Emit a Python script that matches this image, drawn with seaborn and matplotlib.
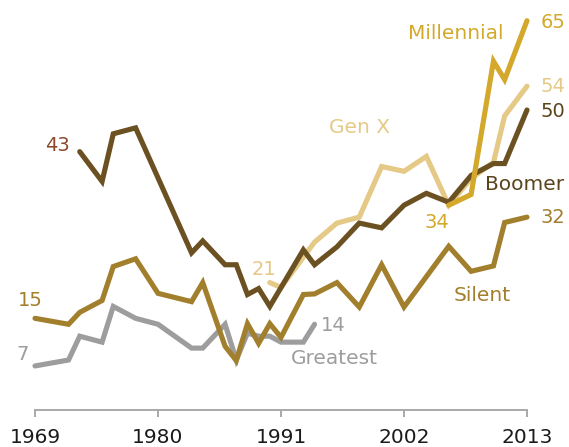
import matplotlib
matplotlib.use("Agg")
import matplotlib.pyplot as plt
import seaborn as sns
import pandas as pd

# ---- data ----
greatest_years = [1969, 1972, 1973, 1975, 1976, 1978, 1980, 1983, 1984, 1986, 1987, 1988, 1989, 1990, 1991, 1993, 1994]
greatest_vals  = [7, 8, 12, 11, 17, 15, 14, 10, 10, 14, 8, 12.5, 12, 12, 11, 11, 14]

silent_years = [1969, 1972, 1973, 1975, 1976, 1978, 1980, 1983, 1984, 1986, 1987, 1988, 1989, 1990, 1991, 1993, 1994, 1996, 1998, 2000, 2002, 2006, 2008, 2010, 2011, 2013]
silent_vals  = [15, 14, 16, 18, 23.7, 25, 19.2, 17.8, 21, 10.3, 7.9, 14.1, 10.8, 14.1, 11.8, 19, 19.1, 21, 16.9, 24, 16.9, 27.1, 22.9, 23.8, 31.1, 32]

boomer_years = [1973, 1975, 1976, 1978, 1983, 1984, 1986, 1987, 1988, 1989, 1990, 1993, 1994, 1996, 1998, 2000, 2002, 2004, 2006, 2008, 2010, 2011, 2013]
boomer_vals  = [43, 38, 46, 47, 26, 28, 24, 24, 19, 20, 17, 26.5, 24, 27, 31, 30.2, 34, 36, 34.5, 39, 41, 41, 50]

genx_years = [1990, 1991, 1994, 1996, 1998, 2000, 2002, 2004, 2006, 2008, 2010, 2011, 2013]
genx_vals  = [21, 20.2, 27.8, 31, 32, 40.5, 39.7, 42.2, 34, 38.5, 41.2, 49, 54]

millennial_years = [2006, 2008, 2010, 2011, 2013]
millennial_vals  = [34, 35.8, 58.2, 55.1, 65]

generations = ["Greatest", "Silent", "Gen X", "Boomer", "Millennial"]
x_ticks = [1969, 1980, 1991, 2002, 2013]

colors = {
    "Greatest": "#9d9d9d",
    "Silent": "#a17f2d",
    "Gen X": "#e5c986",
    "Boomer": "#6b5021",
    "Millennial": "#d4a82b",
}

series = {
    "Greatest": (greatest_years, greatest_vals),
    "Silent": (silent_years, silent_vals),
    "Gen X": (genx_years, genx_vals),
    "Boomer": (boomer_years, boomer_vals),
    "Millennial": (millennial_years, millennial_vals),
}

rows = []
for g in generations:
    ys, vs = series[g]
    for y, v in zip(ys, vs):
        rows.append({"year": y, "pct": v, "gen": g})
df = pd.DataFrame(rows)

sns.set_theme(style="white")
plt.rcParams["font.family"] = ["DejaVu Sans"]

fig = plt.figure(figsize=(5.69, 4.47), dpi=100)
ax = fig.add_axes([35 / 569, 37 / 447, 492 / 569, 389.3 / 447])

sns.lineplot(data=df, x="year", y="pct", hue="gen", hue_order=generations,
             palette=colors, linewidth=3.7, sort=False, estimator=None,
             legend=False, ax=ax)
for ln in ax.lines:
    ln.set_clip_on(False)
    ln.set_solid_capstyle("round")
    ln.set_solid_joinstyle("miter")

ax.set_xlim(1969, 2013)
ax.set_ylim(-0.4, 65)
ax.set_xticks(x_ticks)
ax.set_xticklabels([str(t) for t in x_ticks])
ax.set_yticks([])
ax.set_xlabel("")
ax.set_ylabel("")
for s in ["top", "right", "left"]:
    ax.spines[s].set_visible(False)
ax.spines["bottom"].set_color("#a9a9a9")
ax.spines["bottom"].set_linewidth(1.4)
ax.tick_params(axis="x", direction="out", length=5, width=1.4, color="#a9a9a9",
               labelsize=14.5, labelcolor="#1a1a1a", pad=8, bottom=True)

fs = 14

def lab(text, gen, idx, dx, dy, color, ha="center"):
    ys, vs = series[gen]
    ax.annotate(text, xy=(ys[idx], vs[idx]), xytext=(dx, dy), textcoords="offset pixels",
                ha=ha, va="center", fontsize=fs, color=color, annotation_clip=False)

lab("43", "Boomer", 0, -22, 6, "#8c4a2c")
lab("15", "Silent", 0, -5, 18, colors["Silent"])
lab("7", "Greatest", 0, -12, 11, colors["Greatest"])
lab("21", "Gen X", 0, -6, 13, colors["Gen X"])
lab("14", "Greatest", -1, 6, -1, colors["Greatest"], ha="left")
lab("34", "Millennial", 0, -12, -17, colors["Millennial"])
lab("65", "Millennial", -1, 14, -2, colors["Millennial"], ha="left")
lab("54", "Gen X", -1, 14, 0, colors["Gen X"], ha="left")
lab("50", "Boomer", -1, 14, -2, "#5a441c", ha="left")
lab("32", "Silent", -1, 14, 0, colors["Silent"], ha="left")

name_pos = {
    "Greatest": (1995.8, 8.3),
    "Silent": (2009.0, 18.9),
    "Boomer": (2012.8, 37.4),
    "Gen X": (1998.0, 47.0),
    "Millennial": (2006.6, 62.9),
}
name_colors = dict(colors)
name_colors["Boomer"] = "#5a441c"
for g, (x, y) in name_pos.items():
    ax.text(x, y, g, ha="center", va="center", fontsize=14.5, color=name_colors[g], clip_on=False)

fig.savefig("out.png", dpi=100)
